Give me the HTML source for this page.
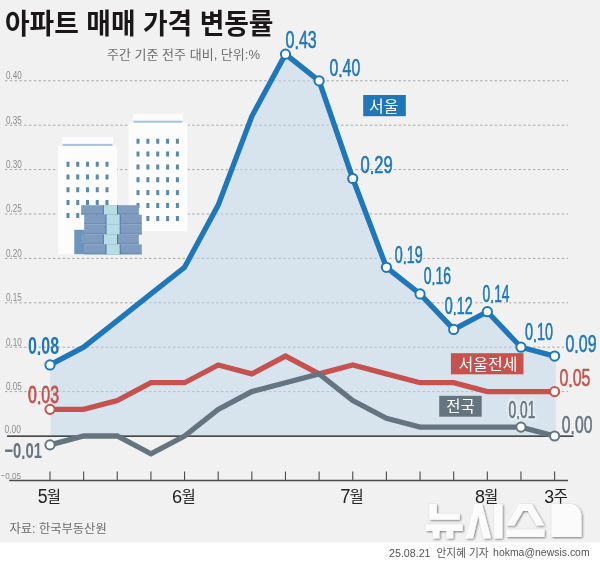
<!DOCTYPE html>
<html lang="ko"><head><meta charset="utf-8"><title>아파트 매매 가격 변동률</title>
<style>html,body{margin:0;padding:0;background:#fff}body{width:600px;height:563px;overflow:hidden;position:relative;font-family:"Liberation Sans","Noto Sans CJK KR",sans-serif}svg{display:block;position:absolute;left:0;top:0}text{font-family:"Liberation Sans","Noto Sans CJK KR",sans-serif}</style>
</head><body>
<svg width="600" height="563" viewBox="0 0 600 563" style="opacity:0.999">
<defs>
<filter id="ds" x="-10%" y="-10%" width="130%" height="130%"><feGaussianBlur in="SourceAlpha" stdDeviation="1.3"/><feOffset dx="0.9" dy="0.9"/><feComponentTransfer><feFuncA type="linear" slope="0.5"/></feComponentTransfer><feMerge><feMergeNode/><feMergeNode in="SourceGraphic"/></feMerge></filter>
<filter id="hb" x="-20%" y="-20%" width="140%" height="140%"><feGaussianBlur stdDeviation="1"/></filter>
</defs>
<rect width="600" height="563" fill="#fff"/>
<rect width="600" height="542.5" fill="#f1f1f1"/>
<text x="5" y="34.2" font-size="28" font-weight="bold" fill="#1a1718" textLength="268.5" lengthAdjust="spacingAndGlyphs">아파트 매매 가격 변동률</text>
<text x="107" y="58.8" font-size="12.6" fill="#6c6c6c" textLength="153" lengthAdjust="spacingAndGlyphs">주간 기준 전주 대비, 단위:%</text>
<line x1="5" x2="568" y1="391.6" y2="391.6" stroke="#8c8c8c" stroke-width="0.75" stroke-dasharray="2.4 2.4"/>
<line x1="5" x2="568" y1="347.2" y2="347.2" stroke="#8c8c8c" stroke-width="0.75" stroke-dasharray="2.4 2.4"/>
<line x1="5" x2="568" y1="302.8" y2="302.8" stroke="#8c8c8c" stroke-width="0.75" stroke-dasharray="2.4 2.4"/>
<line x1="5" x2="568" y1="258.4" y2="258.4" stroke="#8c8c8c" stroke-width="0.75" stroke-dasharray="2.4 2.4"/>
<line x1="5" x2="568" y1="214" y2="214" stroke="#8c8c8c" stroke-width="0.75" stroke-dasharray="2.4 2.4"/>
<line x1="5" x2="568" y1="169.6" y2="169.6" stroke="#8c8c8c" stroke-width="0.75" stroke-dasharray="2.4 2.4"/>
<line x1="5" x2="568" y1="125.2" y2="125.2" stroke="#8c8c8c" stroke-width="0.75" stroke-dasharray="2.4 2.4"/>
<line x1="5" x2="568" y1="80.8" y2="80.8" stroke="#8c8c8c" stroke-width="0.75" stroke-dasharray="2.4 2.4"/>
<rect x="62" y="137" width="51" height="9.8" fill="#fcfcfd"/>
<rect x="58" y="145.8" width="59" height="108.5" fill="#fcfcfd"/>
<rect x="62.5" y="143.9" width="50" height="2" fill="#a9c0e0"/>
<rect x="66.5" y="161.75" width="3" height="5" fill="#5b89aa"/>
<rect x="66.5" y="174.5" width="3" height="5" fill="#5b89aa"/>
<rect x="66.5" y="187.25" width="3" height="5" fill="#5b89aa"/>
<rect x="66.5" y="200" width="3" height="5" fill="#5b89aa"/>
<rect x="66.5" y="213" width="3" height="5" fill="#5b89aa"/>
<rect x="76.25" y="161.75" width="3" height="5" fill="#5b89aa"/>
<rect x="76.25" y="174.5" width="3" height="5" fill="#5b89aa"/>
<rect x="76.25" y="187.25" width="3" height="5" fill="#5b89aa"/>
<rect x="76.25" y="200" width="3" height="5" fill="#5b89aa"/>
<rect x="76.25" y="213" width="3" height="5" fill="#5b89aa"/>
<rect x="86" y="161.75" width="3" height="5" fill="#5b89aa"/>
<rect x="86" y="174.5" width="3" height="5" fill="#5b89aa"/>
<rect x="86" y="187.25" width="3" height="5" fill="#5b89aa"/>
<rect x="86" y="200" width="3" height="5" fill="#5b89aa"/>
<rect x="86" y="213" width="3" height="5" fill="#5b89aa"/>
<rect x="95.75" y="161.75" width="3" height="5" fill="#5b89aa"/>
<rect x="95.75" y="174.5" width="3" height="5" fill="#5b89aa"/>
<rect x="95.75" y="187.25" width="3" height="5" fill="#5b89aa"/>
<rect x="95.75" y="200" width="3" height="5" fill="#5b89aa"/>
<rect x="95.75" y="213" width="3" height="5" fill="#5b89aa"/>
<rect x="105.5" y="161.75" width="3" height="5" fill="#5b89aa"/>
<rect x="105.5" y="174.5" width="3" height="5" fill="#5b89aa"/>
<rect x="105.5" y="187.25" width="3" height="5" fill="#5b89aa"/>
<rect x="105.5" y="200" width="3" height="5" fill="#5b89aa"/>
<rect x="105.5" y="213" width="3" height="5" fill="#5b89aa"/>
<rect x="133" y="113.7" width="50" height="9.9" fill="#fcfcfd"/>
<rect x="128.5" y="122.6" width="59" height="108.7" fill="#fcfcfd"/>
<rect x="133.5" y="120.7" width="49" height="2" fill="#a9c0e0"/>
<rect x="136.5" y="138.75" width="3" height="5" fill="#5b89aa"/>
<rect x="136.5" y="151.5" width="3" height="5" fill="#5b89aa"/>
<rect x="136.5" y="164.5" width="3" height="5" fill="#5b89aa"/>
<rect x="136.5" y="177.25" width="3" height="5" fill="#5b89aa"/>
<rect x="136.5" y="190.1" width="3" height="5" fill="#5b89aa"/>
<rect x="136.5" y="203" width="3" height="5" fill="#5b89aa"/>
<rect x="136.5" y="216" width="3" height="5" fill="#5b89aa"/>
<rect x="146.4" y="138.75" width="3" height="5" fill="#5b89aa"/>
<rect x="146.4" y="151.5" width="3" height="5" fill="#5b89aa"/>
<rect x="146.4" y="164.5" width="3" height="5" fill="#5b89aa"/>
<rect x="146.4" y="177.25" width="3" height="5" fill="#5b89aa"/>
<rect x="146.4" y="190.1" width="3" height="5" fill="#5b89aa"/>
<rect x="146.4" y="203" width="3" height="5" fill="#5b89aa"/>
<rect x="146.4" y="216" width="3" height="5" fill="#5b89aa"/>
<rect x="156.25" y="138.75" width="3" height="5" fill="#5b89aa"/>
<rect x="156.25" y="151.5" width="3" height="5" fill="#5b89aa"/>
<rect x="156.25" y="164.5" width="3" height="5" fill="#5b89aa"/>
<rect x="156.25" y="177.25" width="3" height="5" fill="#5b89aa"/>
<rect x="156.25" y="190.1" width="3" height="5" fill="#5b89aa"/>
<rect x="156.25" y="203" width="3" height="5" fill="#5b89aa"/>
<rect x="156.25" y="216" width="3" height="5" fill="#5b89aa"/>
<rect x="166.1" y="138.75" width="3" height="5" fill="#5b89aa"/>
<rect x="166.1" y="151.5" width="3" height="5" fill="#5b89aa"/>
<rect x="166.1" y="164.5" width="3" height="5" fill="#5b89aa"/>
<rect x="166.1" y="177.25" width="3" height="5" fill="#5b89aa"/>
<rect x="166.1" y="190.1" width="3" height="5" fill="#5b89aa"/>
<rect x="166.1" y="203" width="3" height="5" fill="#5b89aa"/>
<rect x="166.1" y="216" width="3" height="5" fill="#5b89aa"/>
<rect x="175.9" y="138.75" width="3" height="5" fill="#5b89aa"/>
<rect x="175.9" y="151.5" width="3" height="5" fill="#5b89aa"/>
<rect x="175.9" y="164.5" width="3" height="5" fill="#5b89aa"/>
<rect x="175.9" y="177.25" width="3" height="5" fill="#5b89aa"/>
<rect x="175.9" y="190.1" width="3" height="5" fill="#5b89aa"/>
<rect x="175.9" y="203" width="3" height="5" fill="#5b89aa"/>
<rect x="175.9" y="216" width="3" height="5" fill="#5b89aa"/>
<rect x="74.3" y="229.8" width="10.5" height="24.4" fill="#6a96bd"/>
<rect x="81.2" y="205.2" width="57.6" height="9.5" fill="#7f9cbf"/>
<rect x="81.2" y="213.1" width="57.6" height="1.6" fill="#6f8fb6"/>
<rect x="103.3" y="205.2" width="14.2" height="9.5" fill="#b7dce3"/>
<rect x="102.8" y="205.2" width="1" height="9.5" fill="#4f74ad"/>
<rect x="117" y="205.2" width="1" height="9.5" fill="#4f74ad"/>
<rect x="84.2" y="214.7" width="57.6" height="9.7" fill="#7f9cbf"/>
<rect x="84.2" y="222.8" width="57.6" height="1.6" fill="#6f8fb6"/>
<rect x="106" y="214.7" width="14.2" height="9.7" fill="#b7dce3"/>
<rect x="105.5" y="214.7" width="1" height="9.7" fill="#4f74ad"/>
<rect x="119.7" y="214.7" width="1" height="9.7" fill="#4f74ad"/>
<rect x="84.2" y="224.4" width="57.6" height="10" fill="#7f9cbf"/>
<rect x="84.2" y="232.8" width="57.6" height="1.6" fill="#6f8fb6"/>
<rect x="106" y="224.4" width="14.2" height="10" fill="#b7dce3"/>
<rect x="105.5" y="224.4" width="1" height="10" fill="#4f74ad"/>
<rect x="119.7" y="224.4" width="1" height="10" fill="#4f74ad"/>
<rect x="81.2" y="234.4" width="57.6" height="10" fill="#7f9cbf"/>
<rect x="81.2" y="242.8" width="57.6" height="1.6" fill="#6f8fb6"/>
<rect x="103.3" y="234.4" width="14.2" height="10" fill="#b7dce3"/>
<rect x="102.8" y="234.4" width="1" height="10" fill="#4f74ad"/>
<rect x="117" y="234.4" width="1" height="10" fill="#4f74ad"/>
<rect x="84.2" y="244.4" width="57.6" height="9.9" fill="#7f9cbf"/>
<rect x="84.2" y="252.7" width="57.6" height="1.6" fill="#6f8fb6"/>
<rect x="106" y="244.4" width="14.2" height="9.9" fill="#b7dce3"/>
<rect x="105.5" y="244.4" width="1" height="9.9" fill="#4f74ad"/>
<rect x="119.7" y="244.4" width="1" height="9.9" fill="#4f74ad"/>
<path fill="#bfd7ea" fill-opacity="0.5" d="M50.8,436 L50,364.96 L83.64,347.2 L117.28,320.56 L150.92,293.92 L184.56,267.28 L218.2,205.12 L251.84,116.32 L285.48,54.16 L319.12,80.8 L352.76,178.48 L386.4,267.28 L420.04,293.92 L453.68,329.44 L487.32,311.68 L520.96,347.2 L554.6,356.08 L555.9,356.08 L555.9,436 Z"/>
<text transform="translate(5.88 79.20) scale(0.7681 1)" font-size="10.59" fill="#8c8c8c">0.40</text>
<text transform="translate(5.88 123.60) scale(0.7693 1)" font-size="10.59" fill="#8c8c8c">0.35</text>
<text transform="translate(5.88 168.00) scale(0.7681 1)" font-size="10.59" fill="#8c8c8c">0.30</text>
<text transform="translate(5.88 212.40) scale(0.7693 1)" font-size="10.59" fill="#8c8c8c">0.25</text>
<text transform="translate(5.88 256.80) scale(0.7681 1)" font-size="10.59" fill="#8c8c8c">0.20</text>
<text transform="translate(5.88 301.20) scale(0.7693 1)" font-size="10.59" fill="#8c8c8c">0.15</text>
<text transform="translate(5.88 345.60) scale(0.7681 1)" font-size="10.59" fill="#8c8c8c">0.10</text>
<text transform="translate(5.88 390.00) scale(0.7693 1)" font-size="10.59" fill="#8c8c8c">0.05</text>
<text transform="translate(4.47 433.40) scale(0.8203 1)" font-size="10.31" fill="#8c8c8c">0.00</text>
<text transform="translate(0.50 478.51) scale(0.8753 1)" font-size="9.32" fill="#8c8c8c">−0.05</text>
<line x1="7" x2="573.5" y1="436.1" y2="436.1" stroke="#111" stroke-width="1.4"/>
<line x1="9.2" x2="568" y1="480.5" y2="480.5" stroke="#4a4a4a" stroke-width="1.4"/>
<line x1="50" x2="50" y1="471.5" y2="480.5" stroke="#4a4a4a" stroke-width="1.1"/>
<line x1="83.64" x2="83.64" y1="471.5" y2="480.5" stroke="#4a4a4a" stroke-width="1.1"/>
<line x1="117.28" x2="117.28" y1="471.5" y2="480.5" stroke="#4a4a4a" stroke-width="1.1"/>
<line x1="150.92" x2="150.92" y1="471.5" y2="480.5" stroke="#4a4a4a" stroke-width="1.1"/>
<line x1="184.56" x2="184.56" y1="471.5" y2="480.5" stroke="#4a4a4a" stroke-width="1.1"/>
<line x1="218.2" x2="218.2" y1="471.5" y2="480.5" stroke="#4a4a4a" stroke-width="1.1"/>
<line x1="251.84" x2="251.84" y1="471.5" y2="480.5" stroke="#4a4a4a" stroke-width="1.1"/>
<line x1="285.48" x2="285.48" y1="471.5" y2="480.5" stroke="#4a4a4a" stroke-width="1.1"/>
<line x1="319.12" x2="319.12" y1="471.5" y2="480.5" stroke="#4a4a4a" stroke-width="1.1"/>
<line x1="352.76" x2="352.76" y1="471.5" y2="480.5" stroke="#4a4a4a" stroke-width="1.1"/>
<line x1="386.4" x2="386.4" y1="471.5" y2="480.5" stroke="#4a4a4a" stroke-width="1.1"/>
<line x1="420.04" x2="420.04" y1="471.5" y2="480.5" stroke="#4a4a4a" stroke-width="1.1"/>
<line x1="453.68" x2="453.68" y1="471.5" y2="480.5" stroke="#4a4a4a" stroke-width="1.1"/>
<line x1="487.32" x2="487.32" y1="471.5" y2="480.5" stroke="#4a4a4a" stroke-width="1.1"/>
<line x1="520.96" x2="520.96" y1="471.5" y2="480.5" stroke="#4a4a4a" stroke-width="1.1"/>
<line x1="554.6" x2="554.6" y1="471.5" y2="480.5" stroke="#4a4a4a" stroke-width="1.1"/>
<g filter="url(#hb)" opacity="0.75">
<text transform="translate(444.7 313.76) scale(0.605 1)" font-size="23.7" fill="#f2f4f6" stroke="#f2f4f6" stroke-width="4.2" stroke-linejoin="round" style="vector-effect:non-scaling-stroke">0<tspan dy="1.2">.</tspan><tspan dy="-1.2">12</tspan></text>
<text transform="translate(524.9 340.37) scale(0.612 1)" font-size="23.6" fill="#f2f4f6" stroke="#f2f4f6" stroke-width="4.2" stroke-linejoin="round" style="vector-effect:non-scaling-stroke">0<tspan dy="1.2">.</tspan><tspan dy="-1.2">10</tspan></text>
<text transform="translate(508.6 417.97) scale(0.596 1)" font-size="23" fill="#f2f4f6" stroke="#f2f4f6" stroke-width="4.2" stroke-linejoin="round" style="vector-effect:non-scaling-stroke">0<tspan dy="1.2">.</tspan><tspan dy="-1.2">01</tspan></text>
<text transform="translate(482.6 302.16) scale(0.58 1)" font-size="23.9" fill="#f2f4f6" stroke="#f2f4f6" stroke-width="4.2" stroke-linejoin="round" style="vector-effect:non-scaling-stroke">0<tspan dy="1.2">.</tspan><tspan dy="-1.2">14</tspan></text>
<text transform="translate(423.8 283.97) scale(0.593 1)" font-size="23.5" fill="#f2f4f6" stroke="#f2f4f6" stroke-width="4.2" stroke-linejoin="round" style="vector-effect:non-scaling-stroke">0<tspan dy="1.2">.</tspan><tspan dy="-1.2">16</tspan></text>
<text transform="translate(394.7 262.86) scale(0.605 1)" font-size="23.7" fill="#f2f4f6" stroke="#f2f4f6" stroke-width="4.2" stroke-linejoin="round" style="vector-effect:non-scaling-stroke">0<tspan dy="1.2">.</tspan><tspan dy="-1.2">19</tspan></text>
</g>
<polyline fill="none" stroke="#c5524f" stroke-width="5.3" stroke-linejoin="miter" stroke-linecap="butt" points="50,409.36 83.64,409.36 117.28,400.48 150.92,382.72 184.56,382.72 218.2,364.96 251.84,373.84 285.48,356.08 319.12,373.84 352.76,364.96 386.4,373.84 420.04,382.72 453.68,382.72 487.32,391.6 520.96,391.6 554.6,391.6"/>
<polyline fill="none" stroke="#65757f" stroke-width="5.3" stroke-linejoin="miter" stroke-linecap="butt" points="50,444.88 83.64,436 117.28,436 150.92,453.76 184.56,436 218.2,409.36 251.84,391.6 285.48,382.72 319.12,373.84 352.76,400.48 386.4,418.24 420.04,427.12 453.68,427.12 487.32,427.12 520.96,427.12 554.6,436"/>
<polyline fill="none" stroke="#1f77bb" stroke-width="5.3" stroke-linejoin="miter" stroke-linecap="butt" points="50,364.96 83.64,347.2 117.28,320.56 150.92,293.92 184.56,267.28 218.2,205.12 251.84,116.32 285.48,54.16 319.12,80.8 352.76,178.48 386.4,267.28 420.04,293.92 453.68,329.44 487.32,311.68 520.96,347.2 554.6,356.08"/>
<circle cx="50" cy="409.36" r="4.6" fill="#fff" stroke="#c5524f" stroke-width="2"/>
<circle cx="554.6" cy="391.6" r="4.6" fill="#fff" stroke="#c5524f" stroke-width="2"/>
<circle cx="50" cy="444.88" r="4.6" fill="#fff" stroke="#65757f" stroke-width="2"/>
<circle cx="520.96" cy="427.12" r="4.6" fill="#fff" stroke="#65757f" stroke-width="2"/>
<circle cx="554.6" cy="436" r="4.6" fill="#fff" stroke="#65757f" stroke-width="2"/>
<circle cx="50" cy="364.96" r="4.6" fill="#fff" stroke="#1f77bb" stroke-width="2"/>
<circle cx="285.48" cy="54.16" r="4.6" fill="#fff" stroke="#1f77bb" stroke-width="2"/>
<circle cx="319.12" cy="80.8" r="4.6" fill="#fff" stroke="#1f77bb" stroke-width="2"/>
<circle cx="352.76" cy="178.48" r="4.6" fill="#fff" stroke="#1f77bb" stroke-width="2"/>
<circle cx="386.4" cy="267.28" r="4.6" fill="#fff" stroke="#1f77bb" stroke-width="2"/>
<circle cx="420.04" cy="293.92" r="4.6" fill="#fff" stroke="#1f77bb" stroke-width="2"/>
<circle cx="453.68" cy="329.44" r="4.6" fill="#fff" stroke="#1f77bb" stroke-width="2"/>
<circle cx="487.32" cy="311.68" r="4.6" fill="#fff" stroke="#1f77bb" stroke-width="2"/>
<circle cx="520.96" cy="347.2" r="4.6" fill="#fff" stroke="#1f77bb" stroke-width="2"/>
<circle cx="554.6" cy="356.08" r="4.6" fill="#fff" stroke="#1f77bb" stroke-width="2"/>
<text transform="translate(285.58 47.57) scale(0.6821 1)" font-size="23.45" fill="#1f77bb" stroke="#1f77bb" stroke-width="0.6" stroke-linejoin="round" style="vector-effect:non-scaling-stroke">0<tspan dy="1.2">.</tspan><tspan dy="-1.2">43</tspan></text>
<text transform="translate(329.38 76.07) scale(0.6717 1)" font-size="23.59" fill="#1f77bb" stroke="#1f77bb" stroke-width="0.6" stroke-linejoin="round" style="vector-effect:non-scaling-stroke">0<tspan dy="1.2">.</tspan><tspan dy="-1.2">40</tspan></text>
<text transform="translate(360.55 172.77) scale(0.6979 1)" font-size="23.73" fill="#1f77bb" stroke="#1f77bb" stroke-width="0.6" stroke-linejoin="round" style="vector-effect:non-scaling-stroke">0<tspan dy="1.2">.</tspan><tspan dy="-1.2">29</tspan></text>
<text transform="translate(394.7 262.86) scale(0.605 1)" font-size="23.7" fill="#1f77bb" stroke="#1f77bb" stroke-width="0.6" stroke-linejoin="round" style="vector-effect:non-scaling-stroke">0<tspan dy="1.2">.</tspan><tspan dy="-1.2">19</tspan></text>
<text transform="translate(423.8 283.97) scale(0.593 1)" font-size="23.5" fill="#1f77bb" stroke="#1f77bb" stroke-width="0.6" stroke-linejoin="round" style="vector-effect:non-scaling-stroke">0<tspan dy="1.2">.</tspan><tspan dy="-1.2">16</tspan></text>
<text transform="translate(444.7 313.76) scale(0.605 1)" font-size="23.7" fill="#1f77bb" stroke="#1f77bb" stroke-width="0.6" stroke-linejoin="round" style="vector-effect:non-scaling-stroke">0<tspan dy="1.2">.</tspan><tspan dy="-1.2">12</tspan></text>
<text transform="translate(482.6 302.16) scale(0.58 1)" font-size="23.9" fill="#1f77bb" stroke="#1f77bb" stroke-width="0.6" stroke-linejoin="round" style="vector-effect:non-scaling-stroke">0<tspan dy="1.2">.</tspan><tspan dy="-1.2">14</tspan></text>
<text transform="translate(524.9 340.37) scale(0.612 1)" font-size="23.6" fill="#1f77bb" stroke="#1f77bb" stroke-width="0.6" stroke-linejoin="round" style="vector-effect:non-scaling-stroke">0<tspan dy="1.2">.</tspan><tspan dy="-1.2">10</tspan></text>
<text transform="translate(565.48 351.96) scale(0.6573 1)" font-size="24.29" fill="#1f77bb" stroke="#1f77bb" stroke-width="0.6" stroke-linejoin="round" style="vector-effect:non-scaling-stroke">0<tspan dy="1.2">.</tspan><tspan dy="-1.2">09</tspan></text>
<text transform="translate(559.48 386.07) scale(0.6632 1)" font-size="24.01" fill="#c5524f" stroke="#c5524f" stroke-width="0.6" stroke-linejoin="round" style="vector-effect:non-scaling-stroke">0<tspan dy="1.2">.</tspan><tspan dy="-1.2">05</tspan></text>
<text transform="translate(508.6 417.97) scale(0.596 1)" font-size="23" fill="#65757f" stroke="#65757f" stroke-width="0.6" stroke-linejoin="round" style="vector-effect:non-scaling-stroke">0<tspan dy="1.2">.</tspan><tspan dy="-1.2">01</tspan></text>
<text transform="translate(561.79 432.87) scale(0.6632 1)" font-size="23.73" fill="#65757f" stroke="#65757f" stroke-width="0.6" stroke-linejoin="round" style="vector-effect:non-scaling-stroke">0<tspan dy="1.2">.</tspan><tspan dy="-1.2">00</tspan></text>
<text transform="translate(27.97 353.77) scale(0.6780 1)" font-size="23.59" fill="#1f77bb" font-weight="bold">0<tspan dy="1.2">.</tspan><tspan dy="-1.2">08</tspan></text>
<text transform="translate(28.08 402.78) scale(0.6900 1)" font-size="23.02" fill="#c5524f" stroke="#c5524f" stroke-width="0.75" stroke-linejoin="round" style="vector-effect:non-scaling-stroke">0<tspan dy="1.2">.</tspan><tspan dy="-1.2">03</tspan></text>
<text transform="translate(4.4 457.78) scale(0.665 1)" font-size="22.3" fill="#65757f" font-weight="bold">−0<tspan dy="1.2">.</tspan><tspan dy="-1.2">01</tspan></text>
<rect x="363.2" y="95" width="42.6" height="21.2" fill="#1f77bb"/>
<text x="383.85" y="111.6" font-size="16" fill="#fff" text-anchor="middle">서울</text>
<rect x="450.9" y="353.2" width="72.6" height="21.1" fill="#c5524f"/>
<text x="488" y="369.6" font-size="16" fill="#fff" text-anchor="middle">서울전세</text>
<rect x="439.2" y="395.8" width="42.5" height="20.9" fill="#65757f"/>
<text x="460.5" y="411.9" font-size="15.5" fill="#fff" text-anchor="middle">전국</text>
<text transform="translate(37.69 502.61) scale(0.9090 1)" font-size="19.49" fill="#222">5</text>
<text x="46.8" y="502.4" font-size="15.5" fill="#222">월</text>
<text transform="translate(172.04 502.61) scale(0.9477 1)" font-size="19.21" fill="#222">6</text>
<text x="181.4" y="502.4" font-size="15.5" fill="#222">월</text>
<text transform="translate(340.21 502.80) scale(0.9348 1)" font-size="19.77" fill="#222">7</text>
<text x="349.6" y="502.4" font-size="15.5" fill="#222">월</text>
<text transform="translate(474.94 502.61) scale(0.9319 1)" font-size="19.21" fill="#222">8</text>
<text x="484.1" y="502.4" font-size="15.5" fill="#222">월</text>
<text transform="translate(544.23 502.61) scale(0.9223 1)" font-size="19.21" fill="#222">3</text>
<text x="553.5" y="502.4" font-size="15.5" fill="#222">주</text>
<text x="9.5" y="533" font-size="12" fill="#6a6a6a" textLength="97.2" lengthAdjust="spacingAndGlyphs">자료: 한국부동산원</text>
<g fill="#fbfbfb" filter="url(#ds)" aria-label="뉴시스">
<path d="M429.3 504h7.5v9.8h23v6h-30.5zM426 524.3h36.8v6.7h-9.6v7.5h-6.7v-7.5h-7v7.5h-6.7v-7.5h-6.8z"/>
<path d="M474.5 504h7.6l9 34.5h-7.6l-5.2-22.5-5.2 22.5h-7.6zM494 504h8.5v34.5h-8.5z"/>
<path d="M519 504h13l12.5 21.5h-8l-8.5-14.5h-5l-8.5 14.5h-8zM506.5 529.5h38v7.5h-38z"/>
<path d="M551.5 504h18a12 12 0 0 1 12 12v21h-30z"/>
</g>
<text transform="translate(389.06 557.29) scale(0.9309 1)" font-size="11.44" fill="#555">25.08.21</text>
<text x="436.4" y="557.4" font-size="11" fill="#555" textLength="52.2" lengthAdjust="spacingAndGlyphs">안지혜 기자</text>
<text transform="translate(493.07 555.97) scale(1.0147 1)" font-size="10.32" fill="#555">hokma@newsis.com</text>
</svg>
</body></html>
